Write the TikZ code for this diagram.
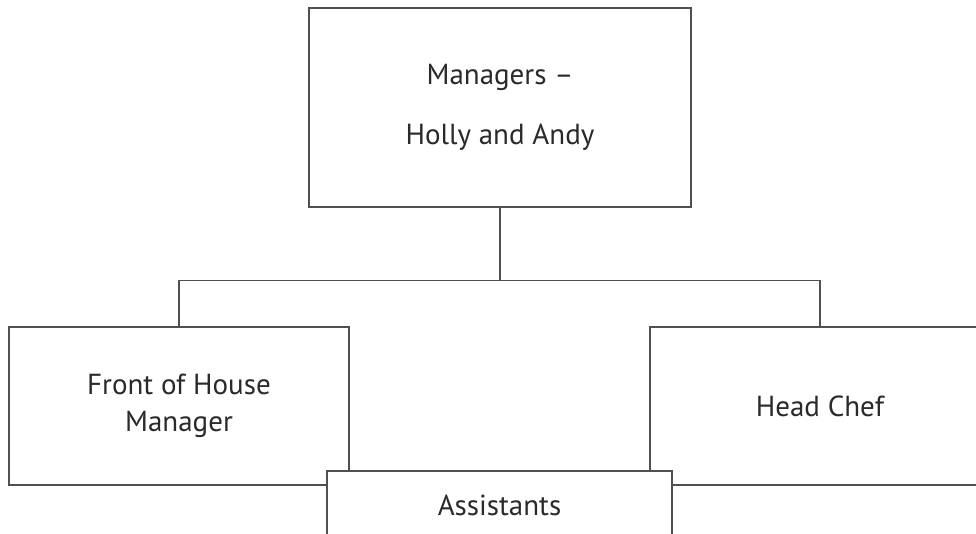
\documentclass[tikz,border=0pt]{standalone}
\usepackage{fontspec}
\setmainfont{PT Sans}
\definecolor{linegray}{HTML}{505050}
\definecolor{textdark}{HTML}{2A2A2A}
\begin{document}
\begin{tikzpicture}[x=1pt,y=-1pt,
  orgbox/.style={draw=linegray,line width=1.4pt,fill=white,rectangle,inner sep=0pt,
    text=textdark,align=center,font=\fontsize{29}{37}\selectfont},
  conn/.style={draw=linegray,line width=1.4pt}]
\clip (0,0) rectangle (976,534);
\fill[white] (0,0) rectangle (976,534);
\node[orgbox,minimum width=382pt,minimum height=199pt,font=\fontsize{29}{60}\selectfont]
  (top) at (500,107.5) {Managers --\\Holly and Andy};
\node[orgbox,minimum width=340pt,minimum height=158pt] (foh) at (179,406) {Front of House\\Manager};
\node[orgbox,minimum width=340pt,minimum height=158pt] (chef) at (820,406) {Head Chef};
\node[orgbox,minimum width=345pt,minimum height=68pt] (asst) at (499.5,505) {Assistants};
\draw[conn] (top.south) -- ++(0,73) coordinate (j);
\draw[conn] (foh.north) |- (j) -| (chef.north);
\end{tikzpicture}
\end{document}
